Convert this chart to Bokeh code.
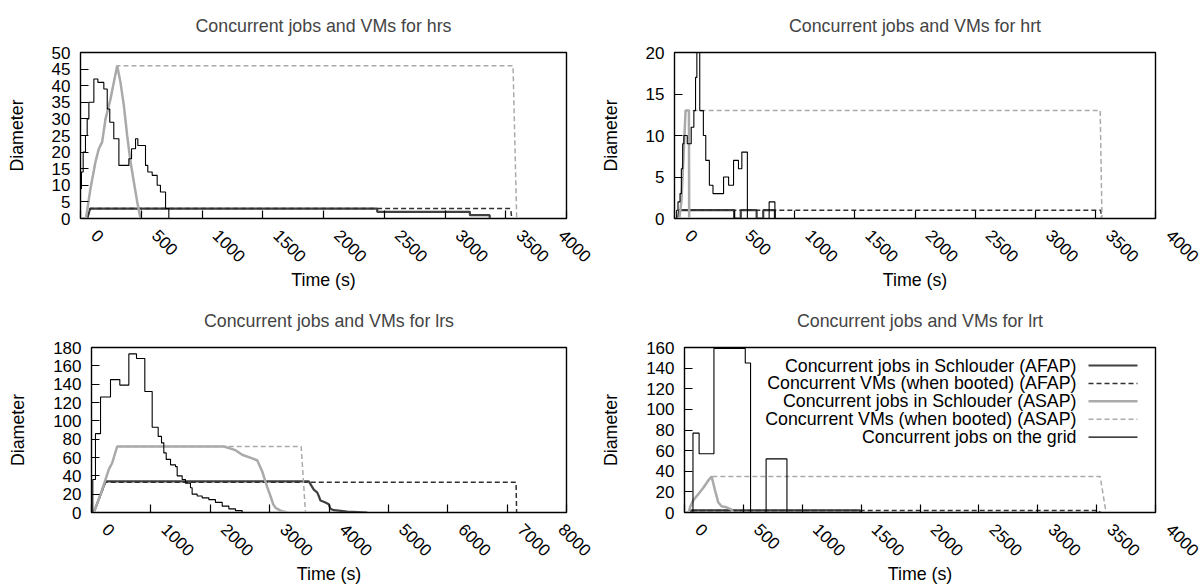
import math
from bokeh.plotting import figure
from bokeh.layouts import column, row
from bokeh.models import Label, Arrow, Range1d, SingleIntervalTicker, PrintfTickFormatter
from bokeh.embed import file_html
from bokeh.resources import INLINE

FONT = "Liberation Sans"

# ---------------- data (time in s, counts) ----------------
# hrs
hrs_afap_jobs_t = [0, 55, 80, 2442, 2442, 3205, 3205, 3368, 3368]
hrs_afap_jobs_v = [0, 0, 3, 3, 2, 2, 1, 1, 0]
hrs_afap_vms_t = [0, 55, 80, 3540, 3550]
hrs_afap_vms_v = [0, 0, 3, 3, 0]
hrs_asap_jobs_t = [0, 45, 82, 123, 151, 178, 206, 247, 274, 302, 329, 357, 384, 412, 439, 467, 494]
hrs_asap_jobs_v = [0, 0, 9, 17, 21, 23, 30, 36, 41, 46, 41, 34, 25, 17, 11, 5, 0]
hrs_asap_vms_t = [0, 45, 82, 123, 151, 178, 206, 247, 274, 302, 3560, 3590]
hrs_asap_vms_v = [0, 0, 9, 17, 21, 23, 30, 36, 41, 46, 46, 0]
hrs_grid_t = [0, 8, 22, 41, 55, 69, 110, 143, 192, 220, 241, 274, 316, 398, 420, 453, 472, 535, 554, 590, 631, 658, 700, 727]
hrs_grid_v = [9, 14, 20, 25, 30, 35, 42, 41, 39, 33, 29, 24, 16, 18, 21, 24, 22, 16, 14, 13, 10, 8, 3, 0]

# hrt
hrt_afap_jobs_t = [0, 30, 40, 496, 496, 551, 551, 683, 683, 738, 738, 835, 835]
hrt_afap_jobs_v = [0, 0, 1, 1, 0, 0, 1, 1, 0, 0, 1, 1, 0]
hrt_afap_vms_t = [0, 30, 40, 3545, 3550]
hrt_afap_vms_v = [0, 0, 1, 1, 0]
hrt_asap_jobs_t = [0, 40, 57, 70, 80, 92, 120, 122]
hrt_asap_jobs_v = [0, 0, 2, 6, 9, 13, 13, 0]
hrt_asap_vms_t = [0, 40, 57, 70, 80, 92, 3540, 3555]
hrt_asap_vms_v = [0, 0, 2, 6, 9, 13, 13, 0]
hrt_grid_t = [0, 18, 29, 46, 57, 68, 78, 106, 139, 161, 175, 186, 210, 240, 260, 290, 320, 408, 450, 491, 532, 560, 606, 787, 835]
hrt_grid_v = [0, 1, 2, 3, 6, 9, 10, 9, 11, 13, 17, 22, 13, 10, 7, 4, 3, 5, 4, 7, 6, 8, 0, 2, 0]

# lrs
lrs_afap_jobs_t = [0, 39, 236, 3660, 3688, 3744, 3800, 3828, 3856, 3940, 3997, 4024, 4081, 4165, 4306, 4643]
lrs_afap_jobs_v = [0, 0, 34, 34, 31, 25, 22, 18, 13, 11, 9, 4, 2.5, 2, 1, 0]
lrs_afap_vms_t = [0, 39, 236, 7150, 7160]
lrs_afap_vms_v = [0, 0, 33, 33, 0]
lrs_asap_jobs_t = [0, 39, 180, 292, 348, 432, 2229, 2425, 2537, 2706, 2790, 2874, 2958, 3014, 3060, 3100, 3183, 3300]
lrs_asap_jobs_v = [0, 0, 25, 47, 54, 72, 72, 68, 63, 59, 57, 45, 28, 18, 9, 5, 2, 0]
lrs_asap_vms_t = [0, 39, 180, 292, 348, 432, 3531, 3604]
lrs_asap_vms_v = [0, 0, 25, 47, 54, 72, 72, 0]
lrs_grid_t = [0, 22, 67, 152, 320, 477, 629, 758, 898, 1022, 1123, 1179, 1218, 1258, 1331, 1415, 1443, 1527, 1583, 1667, 1695, 1780, 1864, 1976, 2088, 2201, 2313, 2425, 2538]
lrs_grid_v = [0, 36, 86, 126, 145, 139, 173, 168, 132, 93, 83, 76, 65, 58, 52, 50, 40, 36, 32, 27, 20, 18, 16, 14, 11, 7, 4, 2, 0]

# lrt
lrt_afap_jobs_t = [0, 40, 60, 1490, 1495]
lrt_afap_jobs_v = [0, 0, 2, 2, 0]
lrt_afap_vms_t = [0, 40, 60, 3520, 3530]
lrt_afap_vms_v = [0, 0, 2, 2, 0]
lrt_asap_jobs_t = [0, 34, 50, 76, 118, 160, 202, 230, 258, 286, 314, 356, 398, 412]
lrt_asap_jobs_v = [0, 0, 6, 12, 18, 24, 31, 35, 22, 10, 6, 5, 3, 0]
lrt_asap_vms_t = [0, 34, 50, 76, 118, 160, 202, 230, 3530, 3580]
lrt_asap_vms_v = [0, 0, 6, 12, 18, 24, 31, 35, 35, 0]
lrt_grid_t = [0, 72, 124, 250, 516, 561, 693, 870]
lrt_grid_v = [0, 77, 57, 159, 145, 0, 52, 0]

legend_labels = [
    "Concurrent jobs in Schlouder (AFAP)",
    "Concurrent VMs (when booted) (AFAP)",
    "Concurrent jobs in Schlouder (ASAP)",
    "Concurrent VMs (when booted) (ASAP)",
    "Concurrent jobs on the grid",
]

# ---------------- styles ----------------
STY = [
    dict(line_color="#404040", line_width=2.2),
    dict(line_color="#303030", line_width=1.5, line_dash="5 3"),
    dict(line_color="#aaaaaa", line_width=2.5),
    dict(line_color="#aaaaaa", line_width=1.5, line_dash="5 3"),
    dict(line_color="#000000", line_width=1.1),
]
TXT = "17.8px"
TICK = "17px"
NB = "\u00a0" * 4  # gnuplot draws the rotated tick labels a little past the tick


def make_panel(name, series, xmax, xstep, ymax, ystep, fw, fh, bl, br, bt, bb):
    p = figure(output_backend="svg", toolbar_location=None,
               frame_width=fw, frame_height=fh,
               min_border_left=bl, min_border_right=br,
               min_border_top=bt, min_border_bottom=bb,
               x_range=Range1d(0, xmax), y_range=Range1d(0, ymax),
               title="Concurrent jobs and VMs for " + name)
    p.title.text_font = FONT
    p.title.text_font_size = TXT
    p.title.text_font_style = "normal"
    p.title.align = "center"
    p.title.vertical_align = "top"
    p.title.standoff = 29
    p.background_fill_color = "white"
    p.border_fill_color = "white"
    p.outline_line_color = "black"
    p.outline_line_width = 1.4
    p.xgrid.visible = False
    p.ygrid.visible = False

    p.xaxis.ticker = SingleIntervalTicker(interval=xstep, num_minor_ticks=0)
    p.yaxis.ticker = SingleIntervalTicker(interval=ystep, num_minor_ticks=0)
    p.xaxis.formatter = PrintfTickFormatter(format=NB + "%d")
    for ax in (p.xaxis, p.yaxis):
        ax.major_tick_in = 8
        ax.major_tick_out = 0
        ax.minor_tick_line_color = None
        ax.major_tick_line_color = "black"
        ax.major_tick_line_width = 1.2
        ax.axis_line_color = "black"
        ax.major_label_text_font = FONT
        ax.major_label_text_font_size = TICK
        ax.major_label_text_color = "black"
        ax.axis_label_text_font = FONT
        ax.axis_label_text_font_size = TXT
        ax.axis_label_text_font_style = "normal"
        ax.axis_label_text_color = "black"
    p.xaxis.major_label_standoff = 1
    p.yaxis.major_label_standoff = 10
    p.xaxis.major_label_orientation = -math.pi / 4
    p.xaxis.axis_label = "Time (s)"
    p.xaxis.axis_label_standoff = -6
    p.yaxis.axis_label = "Diameter"
    p.yaxis.axis_label_standoff = 22

    (aj_t, aj_v), (av_t, av_v), (sj_t, sj_v), (sv_t, sv_v), (g_t, g_v) = series
    p.line(aj_t, aj_v, **STY[0])
    p.line(av_t, av_v, **STY[1])
    p.line(sj_t, sj_v, **STY[2])
    p.line(sv_t, sv_v, **STY[3])
    p.step(g_t, g_v, mode="after", **STY[4])
    return p


p1 = make_panel("hrs", [(hrs_afap_jobs_t, hrs_afap_jobs_v), (hrs_afap_vms_t, hrs_afap_vms_v),
                        (hrs_asap_jobs_t, hrs_asap_jobs_v), (hrs_asap_vms_t, hrs_asap_vms_v),
                        (hrs_grid_t, hrs_grid_v)],
                4000, 500, 50, 5, 486, 166, 80, 28, 52, 77)
p2 = make_panel("hrt", [(hrt_afap_jobs_t, hrt_afap_jobs_v), (hrt_afap_vms_t, hrt_afap_vms_v),
                        (hrt_asap_jobs_t, hrt_asap_jobs_v), (hrt_asap_vms_t, hrt_asap_vms_v),
                        (hrt_grid_t, hrt_grid_v)],
                4000, 500, 20, 5, 481, 166, 80, 48, 52, 77)
p3 = make_panel("lrs", [(lrs_afap_jobs_t, lrs_afap_jobs_v), (lrs_afap_vms_t, lrs_afap_vms_v),
                        (lrs_asap_jobs_t, lrs_asap_jobs_v), (lrs_asap_vms_t, lrs_asap_vms_v),
                        (lrs_grid_t, lrs_grid_v)],
                8000, 1000, 180, 20, 475, 165, 91, 28, 52, 76)
p4 = make_panel("lrt", [(lrt_afap_jobs_t, lrt_afap_jobs_v), (lrt_afap_vms_t, lrt_afap_vms_v),
                        (lrt_asap_jobs_t, lrt_asap_jobs_v), (lrt_asap_vms_t, lrt_asap_vms_v),
                        (lrt_grid_t, lrt_grid_v)],
                4000, 500, 160, 20, 471, 165, 90, 48, 52, 76)

# gnuplot-style key: label right-aligned, sample to its right (screen units, frame-relative)
FW, FH = 471, 165
for i, lab in enumerate(legend_labels):
    yy = FH - 18 - i * 17.9
    p4.add_layout(Label(x=FW - 79, y=yy, x_units="screen", y_units="screen", text=lab,
                        text_align="right", text_baseline="middle", text_font=FONT,
                        text_font_size=TXT, text_color="black"))
    st = dict(STY[i])
    p4.add_layout(Arrow(end=None, x_start=FW - 67, x_end=FW - 18, y_start=yy, y_end=yy,
                        start_units="screen", end_units="screen", **st))

layout = column(row(p1, p2), row(p3, p4))
open("out.html", "w").write(file_html(layout, INLINE))
